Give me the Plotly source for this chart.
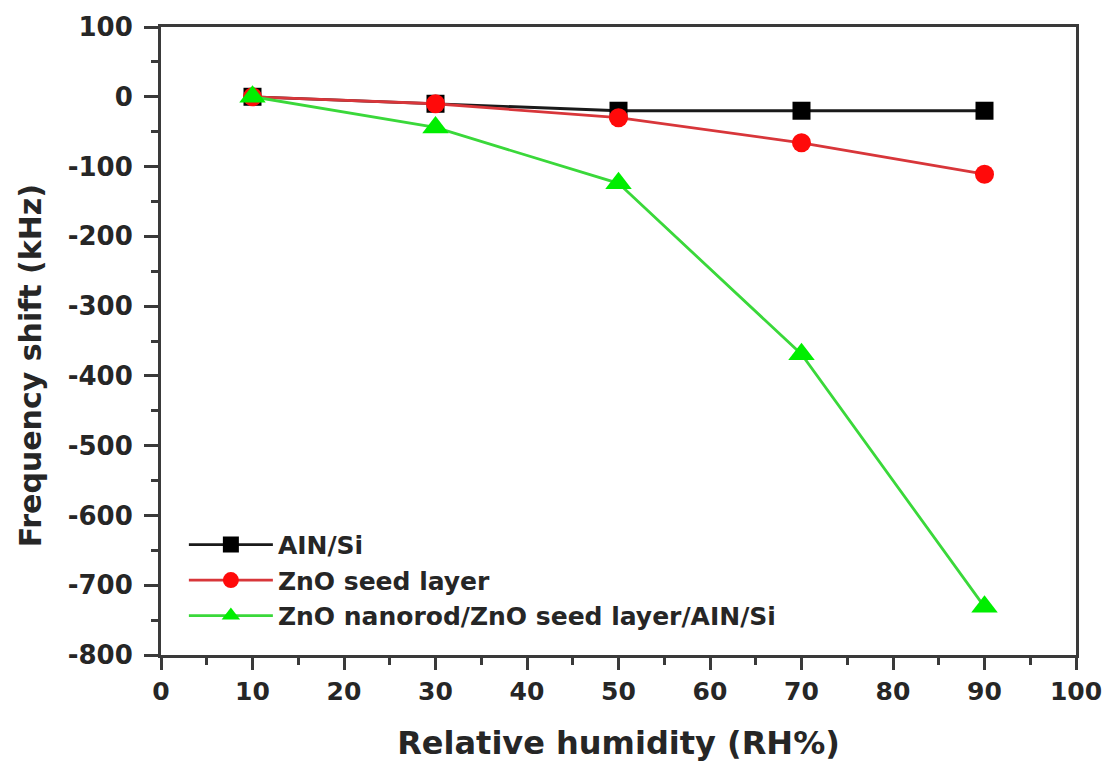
import plotly.graph_objects as go

rh = [10, 30, 50, 70, 90]
aln_si = [0, -10, -20, -20, -20]
zno_seed = [0, -10, -30, -66, -111]
zno_nanorod = [0, -44, -124, -369, -731]

names = ["AIN/Si", "ZnO seed layer", "ZnO nanorod/ZnO seed layer/AIN/Si"]
x_ticks = [0, 10, 20, 30, 40, 50, 60, 70, 80, 90, 100]
y_ticks = [100, 0, -100, -200, -300, -400, -500, -600, -700, -800]
x_title = "Relative humidity (RH%)"
y_title = "Frequency shift (kHz)"

FONT = "DejaVu Sans, Liberation Sans, sans-serif"
TXT = "#262626"
AX = "#3a3a3a"

fig = go.Figure()
fig.add_trace(go.Scatter(
    x=rh, y=aln_si, name=names[0], mode="lines+markers",
    line=dict(color="#1a1a1a", width=2.8),
    marker=dict(symbol="square", size=18, color="#000000"),
))
fig.add_trace(go.Scatter(
    x=rh, y=zno_seed, name=names[1], mode="lines+markers",
    line=dict(color="#d8363a", width=2.8),
    marker=dict(symbol="circle", size=19, color="#ff0a0a"),
))
fig.add_trace(go.Scatter(
    x=rh, y=zno_nanorod, name=names[2], mode="lines+markers",
    line=dict(color="#3ad83a", width=2.8),
    marker=dict(symbol="triangle-up", size=23, color="#00ee00"),
))

fig.update_layout(
    width=1114, height=770,
    margin=dict(l=161, r=36, t=25, b=115),
    paper_bgcolor="white", plot_bgcolor="white",
    font=dict(family=FONT, color=TXT),
    showlegend=True,
    legend=dict(
        x=0.025, y=0.212, xanchor="left", yanchor="top",
        bgcolor="rgba(0,0,0,0)", borderwidth=0,
        font=dict(size=25, family=FONT, color=TXT, weight="bold"),
        itemwidth=84, tracegroupgap=0,
    ),
    xaxis=dict(
        range=[0, 100], tickvals=x_ticks, ticktext=[str(v) for v in x_ticks],
        showgrid=False, zeroline=False,
        showline=True, linecolor=AX, linewidth=3, mirror=True,
        ticks="outside", ticklen=12, tickwidth=3, tickcolor=AX,
        minor=dict(dtick=5, ticks="outside", ticklen=7, tickwidth=3, tickcolor=AX),
        tickfont=dict(size=25, family=FONT, color=TXT, weight="bold"),
        title=dict(text=x_title, standoff=27,
                   font=dict(size=32, family=FONT, color=TXT, weight="bold")),
    ),
    yaxis=dict(
        range=[-800, 100], tickvals=y_ticks, ticktext=[str(v) for v in y_ticks],
        showgrid=False, zeroline=False,
        showline=True, linecolor=AX, linewidth=3, mirror=True,
        ticks="outside", ticklen=14, tickwidth=3, tickcolor=AX,
        minor=dict(dtick=50, ticks="outside", ticklen=7, tickwidth=3, tickcolor=AX),
        tickfont=dict(size=26, family=FONT, color=TXT, weight="bold"),
        ticklabelstandoff=6,
    ),
    annotations=[dict(
        text=y_title, textangle=-90, showarrow=False,
        xref="paper", yref="paper", x=-0.143, y=0.46,
        xanchor="center", yanchor="middle",
        font=dict(size=30, family=FONT, color=TXT, weight="bold"),
    )],
)

fig.write_html("out.html")
